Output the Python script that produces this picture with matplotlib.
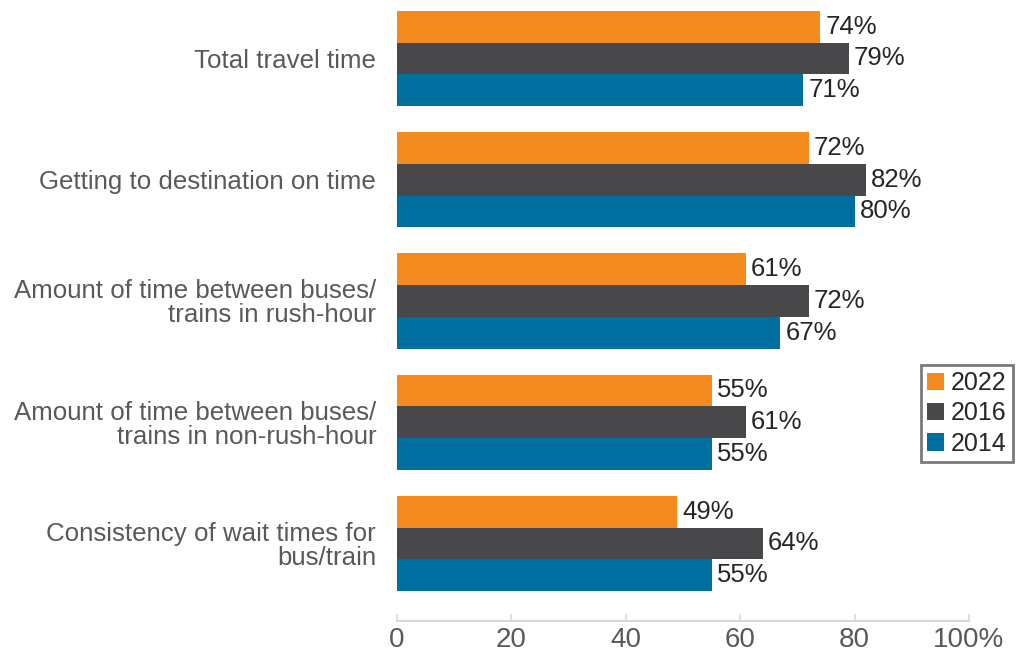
import numpy as np
import matplotlib
matplotlib.use('Agg')
import matplotlib.pyplot as plt

plt.rcParams['font.family'] = ['Liberation Sans', 'DejaVu Sans']

categories = ["Total travel time",
              "Getting to destination on time",
              "Amount of time between buses/\ntrains in rush-hour",
              "Amount of time between buses/\ntrains in non-rush-hour",
              "Consistency of wait times for\nbus/train"]
years = ["2022", "2016", "2014"]
values_2022 = [74, 72, 61, 55, 49]
values_2016 = [79, 82, 72, 61, 64]
values_2014 = [71, 80, 67, 55, 55]
colors = ["#F58A1F", "#48484A", "#006FA0"]

fig = plt.figure(figsize=(10.17, 6.54), dpi=100)
ax = fig.add_axes([0.3904, 0.0505, 0.5624, 0.9495])

y = np.arange(len(categories))
h = 0.262
for k, (vals, yr, col) in enumerate(zip([values_2022, values_2016, values_2014], years, colors)):
    pos = y + (k - 1) * h
    ax.barh(pos, vals, height=h, color=col, label=yr)
    for p, v in zip(pos, vals):
        ax.text(v + 0.9, p, f"{v}%", va='center', ha='left', fontsize=18.5, color='#262626')

ax.set_xlim(0, 100)
ax.set_ylim(4.639, -0.482)
ax.set_yticks(y)
ax.set_yticklabels(categories, fontsize=18.6, color='#595959', ha='right', linespacing=1.0)
ax.tick_params(axis='y', length=0, pad=15)
ax.set_xticks([0, 20, 40, 60, 80, 100])
ax.set_xticklabels(["0", "20", "40", "60", "80", "100%"], fontsize=20, color='#595959')
ax.tick_params(axis='x', direction='in', length=5, color='#D9D9D9', width=1.2, pad=4)
for s in ['top', 'right', 'left']:
    ax.spines[s].set_visible(False)
ax.spines['bottom'].set_color('#D9D9D9')
ax.spines['bottom'].set_linewidth(1.5)

leg = ax.legend(loc='upper left', bbox_to_anchor=(0.9056, 0.4419), bbox_transform=fig.transFigure,
                fontsize=18, frameon=True, fancybox=False, handlelength=0.68, handleheight=0.7,
                handletextpad=0.28, labelspacing=0.25, borderpad=0.25, borderaxespad=0)
leg.get_frame().set_edgecolor('#595959')
leg.get_frame().set_linewidth(2)
for t in leg.get_texts():
    t.set_color('#262626')

fig.savefig('out.png', dpi=100)
